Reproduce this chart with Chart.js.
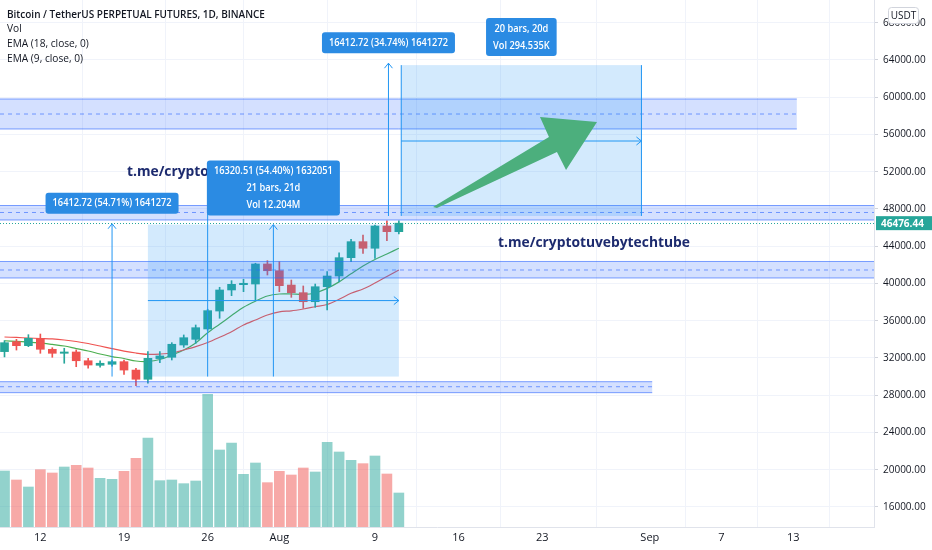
<!DOCTYPE html>
<html>
<head>
<meta charset="utf-8">
<script src="https://cdn.jsdelivr.net/npm/chart.js@4.4.0/dist/chart.umd.min.js"></script>
<style>
  html, body { margin: 0; padding: 0; background: #fff; }
  canvas { display: block; }
</style>
</head>
<body>
<canvas id="chart" width="932" height="550"></canvas>
<script>
// Daily candles, BTCUSDT perpetual (Binance), 9 Jul - 11 Aug 2021
const dates = ['Jul 9','Jul 10','Jul 11','Jul 12','Jul 13','Jul 14','Jul 15','Jul 16','Jul 17','Jul 18',
  'Jul 19','Jul 20','Jul 21','Jul 22','Jul 23','Jul 24','Jul 25','Jul 26','Jul 27','Jul 28',
  'Jul 29','Jul 30','Jul 31','Aug 1','Aug 2','Aug 3','Aug 4','Aug 5','Aug 6','Aug 7',
  'Aug 8','Aug 9','Aug 10','Aug 11'];
const opens  = [32680,33750,33320,34110,32930,32500,32640,31700,31210,31320,31600,30700,29710,31930,32070,33390,34000,35110,37040,39300,39870,39940,42090,41370,39830,39010,38040,39650,40800,42770,44490,43780,46170,45560];
const highs  = [33860,34000,34500,34570,33100,33040,32860,31960,31700,31780,31780,30890,32680,32680,33640,34470,35540,37230,39590,40300,40450,42170,42450,42340,40370,39730,39940,41265,43300,44745,45200,46280,46740,46740];
const lows   = [32110,32850,33210,32500,32070,31430,31060,30890,31000,31130,30240,29020,29280,31500,31780,33140,33570,34950,36260,38690,39120,38220,40910,39120,38510,37330,37440,37150,40190,42340,43240,42700,44590,45310];
const closes = [33640,33320,34110,32930,32500,32640,31700,31240,31430,31600,30700,29710,31960,32215,33470,34175,35250,37080,39300,39910,40020,42090,41370,39760,39010,38040,39650,40800,42770,44490,43780,46170,45560,46476.44];
// volume, thousands of BTC
const volumes = [504,423,360,516,486,540,555,531,438,429,501,618,801,417,423,390,414,1194,693,756,474,576,399,501,468,531,495,762,675,600,570,639,477,306];
const ema18 = [34250,34200,34140,34090,34040,33930,33770,33550,33280,33010,32740,32530,32390,32420,32530,32850,33210,33660,34220,34820,35540,36080,36610,36950,37060,37260,37500,37740,38300,38950,39400,40050,40750,41450];
const ema9  = [33850,33770,33710,33610,33450,33280,33010,32750,32420,32150,31940,31670,31620,31830,32320,32850,33610,34700,35620,36550,37450,38100,38650,38870,38870,38820,38980,39470,40170,41030,41880,42580,43170,43780];

// time axis labels (day index counted from Jul 9)
const timeTickDays   = [3, 10, 17, 23, 31, 38, 45, 54, 60, 66];
const timeTickLabels = ['12','19','26','Aug','9','16','23','Sep','7','13'];
const priceTicks = [16000,20000,24000,28000,32000,36000,40000,44000,48000,52000,56000,60000,64000,68000];

const UP = '#26a69a', DOWN = '#ef5350';
const isUp = closes.map((c, i) => c >= opens[i]);

// drawings (in day / price units)
const bands = [
  { d0: null, d1: 66.3, hi: 59810, mid: 58200, lo: 56590 },
  { d0: null, d1: null, hi: 48373, mid: 47622, lo: 46816 },
  { d0: null, d1: null, hi: 42359, mid: 41446, lo: 40587 },
  { d0: null, d1: 54.2, hi: 29450, mid: 28910, lo: 28270 }
];
const arrowShape = [[35.86,48212],[45.56,55730],[44.81,57878],[49.58,57341],[46.99,52186],[46.23,54119],[36.19,48105]];

function X(c, d) { return c.scales.x.getPixelForValue(d); }
function Y(c, p) { return c.scales.y.getPixelForValue(p); }

function fitFont(ctx, text, width, weight, family) {
  ctx.font = weight + ' 20px ' + family;
  const size = 20 * width / ctx.measureText(text).width;
  return weight + ' ' + size.toFixed(2) + 'px ' + family;
}

function vArrow(ctx, x, yb, yt) {
  ctx.beginPath();
  ctx.moveTo(x, yb); ctx.lineTo(x, yt);
  ctx.moveTo(x - 4, yt + 5); ctx.lineTo(x, yt); ctx.lineTo(x + 4, yt + 5);
  ctx.stroke();
}
function hArrow(ctx, xl, xr, y) {
  ctx.beginPath();
  ctx.moveTo(xl, y); ctx.lineTo(xr, y);
  ctx.moveTo(xr - 5, y - 4); ctx.lineTo(xr, y); ctx.lineTo(xr - 5, y + 4);
  ctx.stroke();
}
function roundRect(ctx, x, y, w, h, r) {
  ctx.beginPath();
  ctx.moveTo(x + r, y);
  ctx.arcTo(x + w, y, x + w, y + h, r);
  ctx.arcTo(x + w, y + h, x, y + h, r);
  ctx.arcTo(x, y + h, x, y, r);
  ctx.arcTo(x, y, x + w, y, r);
  ctx.closePath();
}

const LABEL_FONT = '600 10.5px "Open Sans"';
let labelSqueeze = 1;

function label(ctx, cx, bottom, lines) {
  ctx.font = LABEL_FONT;
  const w = Math.max(...lines.map(t => ctx.measureText(t).width)) * labelSqueeze + 14;
  const h = 20 + 17 * (lines.length - 1) + 1;
  ctx.fillStyle = '#2b8be3';
  roundRect(ctx, cx - w / 2, bottom - h, w, h, 3);
  ctx.fill();
  ctx.fillStyle = '#fff';
  ctx.textAlign = 'center';
  ctx.textBaseline = 'middle';
  lines.forEach((t, i) => {
    ctx.save();
    ctx.translate(cx, bottom - h + 10.5 + i * 17);
    ctx.scale(labelSqueeze, 1);
    ctx.fillText(t, 0, 0);
    ctx.restore();
  });
}

const drawings = {
  id: 'drawings',
  afterDatasetsDraw(chart) {
    const ctx = chart.ctx, a = chart.chartArea;
    ctx.save();
    ctx.beginPath();
    ctx.rect(a.left, a.top, a.right - a.left, a.bottom - a.top);
    ctx.clip();

    // support / resistance bands
    bands.forEach(b => {
      const x0 = b.d0 === null ? a.left : X(chart, b.d0);
      const x1 = b.d1 === null ? a.right : X(chart, b.d1);
      const yt = Y(chart, b.hi), ym = Y(chart, b.mid), yb = Y(chart, b.lo);
      ctx.fillStyle = 'rgba(41,98,255,0.2)';
      ctx.fillRect(x0, yt, x1 - x0, yb - yt);
      ctx.strokeStyle = 'rgba(41,98,255,0.6)';
      ctx.lineWidth = 1;
      ctx.setLineDash([]);
      ctx.beginPath();
      ctx.moveTo(x0, yt); ctx.lineTo(x1, yt);
      ctx.moveTo(x0, yb); ctx.lineTo(x1, yb);
      ctx.stroke();
      ctx.setLineDash([4, 4]);
      ctx.beginPath();
      ctx.moveTo(x0, ym); ctx.lineTo(x1, ym);
      ctx.stroke();
      ctx.setLineDash([]);
    });

    // date & price range, 21 Jul -> 11 Aug
    const bx0 = X(chart, 12), bx1 = X(chart, 33);
    const by0 = Y(chart, 46321.5), by1 = Y(chart, 30001);
    ctx.fillStyle = 'rgba(33,150,243,0.2)';
    ctx.fillRect(bx0, by0, bx1 - bx0, by1 - by0);
    ctx.strokeStyle = '#2196f3';
    ctx.lineWidth = 1;
    vArrow(ctx, (bx0 + bx1) / 2, by1, by0);
    hArrow(ctx, bx0, bx1, (by0 + by1) / 2);

    // date range projected forward
    const rx0 = X(chart, 33.2), rx1 = X(chart, 53.3);
    const ry0 = Y(chart, 63450), ry1 = Y(chart, 47250);
    ctx.fillStyle = 'rgba(33,150,243,0.2)';
    ctx.fillRect(rx0, ry0, rx1 - rx0, ry1 - ry0);
    ctx.beginPath();
    ctx.moveTo(rx0, ry0); ctx.lineTo(rx0, ry1);
    ctx.moveTo(rx1, ry0); ctx.lineTo(rx1, ry1);
    ctx.stroke();
    hArrow(ctx, rx0, rx1, Y(chart, 55300));

    // price ranges
    vArrow(ctx, X(chart, 9), Y(chart, 30000), Y(chart, 46412.72));
    vArrow(ctx, X(chart, 32.13), Y(chart, 47244), Y(chart, 63656.72));
    ctx.beginPath();
    ctx.moveTo(X(chart, 17), Y(chart, 30001));
    ctx.lineTo(X(chart, 17), Y(chart, 46321.5) - 30);
    ctx.stroke();

    // big green arrow
    ctx.fillStyle = '#4caf7d';
    ctx.beginPath();
    arrowShape.forEach(([d, p], i) => {
      const px = X(chart, d), py = Y(chart, p);
      if (i === 0) ctx.moveTo(px, py); else ctx.lineTo(px, py);
    });
    ctx.closePath();
    ctx.fill();

    // last price line
    ctx.strokeStyle = UP;
    ctx.setLineDash([1, 2]);
    ctx.beginPath();
    const ly = Math.round(Y(chart, closes[closes.length - 1])) + 0.5;
    ctx.moveTo(a.left, ly); ctx.lineTo(a.right, ly);
    ctx.stroke();
    ctx.setLineDash([]);

    // watermark-like texts
    const tg = 't.me/cryptotuvebytechtube';
    ctx.font = fitFont(ctx, tg, 192, 'bold', 'Open Sans');
    ctx.fillStyle = '#1c2a6e';
    ctx.textAlign = 'left';
    ctx.textBaseline = 'middle';
    ctx.fillText(tg, X(chart, 10.25), Y(chart, 52000));
    ctx.fillText(tg, X(chart, 41.3), Y(chart, 44350));

    // measurement labels (text squeezed to the reference width)
    ctx.font = LABEL_FONT;
    labelSqueeze = 119 / ctx.measureText('16412.72 (54.71%) 1641272').width;
    label(ctx, X(chart, 9), Y(chart, 46412.72) - 10, ['16412.72 (54.71%) 1641272']);
    label(ctx, (bx0 + bx1) / 2, by0 - 9, ['16320.51 (54.40%) 1632051', '21 bars, 21d', 'Vol 12.204M']);
    label(ctx, X(chart, 32.13), Y(chart, 63656.72) - 10, ['16412.72 (34.74%) 1641272']);
    label(ctx, (rx0 + rx1) / 2, ry0 - 9, ['20 bars, 20d', 'Vol 294.535K']);
    ctx.restore();
  },
  afterDraw(chart) {
    const ctx = chart.ctx, a = chart.chartArea;
    ctx.save();
    // last price tag
    const last = closes[closes.length - 1];
    const ly = Y(chart, last);
    ctx.fillStyle = UP;
    ctx.fillRect(a.right + 2, ly - 7, 56, 14);
    ctx.fillStyle = '#fff';
    ctx.font = 'bold 10px "Open Sans"';
    ctx.textAlign = 'left';
    ctx.textBaseline = 'middle';
    ctx.fillText(last.toFixed(2), a.right + 7, ly + 0.5);

    // currency box
    ctx.fillStyle = '#fff';
    roundRect(ctx, 888.5, 7.5, 30, 16, 3);
    ctx.fill();
    ctx.strokeStyle = '#d1d4dc';
    ctx.lineWidth = 1;
    ctx.stroke();
    ctx.fillStyle = '#131722';
    ctx.font = '10px "Open Sans"';
    ctx.textAlign = 'center';
    ctx.fillText('USDT', 903.5, 16);

    // legend
    ctx.textAlign = 'left';
    ctx.fillStyle = '#131722';
    const title = 'Bitcoin / TetherUS PERPETUAL FUTURES, 1D, BINANCE';
    ctx.font = fitFont(ctx, title, 258, '600', 'Open Sans');
    ctx.fillText(title, 7, 15);
    ctx.font = fitFont(ctx, 'EMA (18, close, 0)', 82, 'normal', 'Open Sans');
    ctx.fillText('Vol', 7, 29.5);
    ctx.fillText('EMA (18, close, 0)', 7, 44);
    ctx.fillText('EMA (9, close, 0)', 7, 59);
    ctx.restore();
  }
};

const idx = dates.map((_, i) => i);

new Chart(document.getElementById('chart'), {
  type: 'bar',
  data: {
    datasets: [
      {
        label: 'Volume', yAxisID: 'yv', order: 5, grouped: false, barThickness: 10,
        data: idx.map(i => ({ x: i, y: volumes[i] })),
        backgroundColor: isUp.map(u => u ? 'rgba(38,166,154,0.5)' : 'rgba(239,83,80,0.5)')
      },
      {
        type: 'line', label: 'EMA 18', order: 4,
        data: idx.map(i => ({ x: i, y: ema18[i] })),
        borderColor: '#ef5350', borderWidth: 1.2, pointRadius: 0, tension: 0.3
      },
      {
        type: 'line', label: 'EMA 9', order: 4,
        data: idx.map(i => ({ x: i, y: ema9[i] })),
        borderColor: '#4caf50', borderWidth: 1.2, pointRadius: 0, tension: 0.3
      },
      {
        label: 'Wick', order: 2, grouped: false, barThickness: 1,
        data: idx.map(i => ({ x: i, y: [lows[i], highs[i]] })),
        backgroundColor: isUp.map(u => u ? UP : DOWN)
      },
      {
        label: 'Body', order: 1, grouped: false, barThickness: 8, minBarLength: 1,
        data: idx.map(i => ({ x: i, y: [opens[i], closes[i]] })),
        backgroundColor: isUp.map(u => u ? UP : DOWN)
      }
    ]
  },
  options: {
    responsive: false,
    animation: false,
    layout: { padding: 0, autoPadding: false },
    plugins: { legend: { display: false }, tooltip: { enabled: false } },
    scales: {
      x: {
        type: 'linear', min: -0.3766, max: 72.76, offset: false,
        grid: { color: '#f0f3fa', drawTicks: false },
        border: { color: '#e0e3eb' },
        ticks: {
          color: '#131722', font: { family: 'Open Sans', size: 11 }, padding: 4,
          autoSkip: false, maxRotation: 0,
          callback: v => { const k = timeTickDays.indexOf(v); return k >= 0 ? timeTickLabels[k] : ''; }
        },
        afterBuildTicks: s => { s.ticks = timeTickDays.map(v => ({ value: v })); },
        afterFit: s => { s.height = 23; s.paddingLeft = 0; s.paddingRight = 0; }
      },
      y: {
        position: 'right', min: 13844, max: 70444,
        grid: { color: '#f0f3fa', tickLength: 4, tickColor: '#d1d4dc' },
        border: { color: '#e0e3eb' },
        ticks: {
          color: '#131722', font: { family: 'Open Sans', size: 10 }, padding: 5,
          callback: v => v.toFixed(2)
        },
        afterBuildTicks: s => { s.ticks = priceTicks.map(v => ({ value: v })); },
        afterFit: s => { s.width = 58; s.paddingTop = 0; s.paddingBottom = 0; }
      },
      yv: { display: false, min: 0, max: 4743 }
    }
  },
  plugins: [drawings]
});
</script>
</body>
</html>
